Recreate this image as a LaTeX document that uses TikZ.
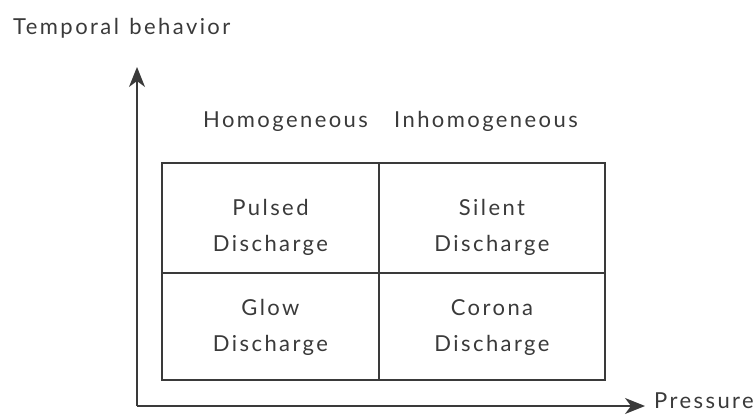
\documentclass[tikz,border=0pt]{standalone}
\usepackage{fontspec}
\setmainfont{Lato}[LetterSpace=11, WordSpace=1.3]
\usetikzlibrary{arrows.meta}
\definecolor{ink}{HTML}{3A3A3A}
\tikzset{
  lbl/.style={text=ink, inner sep=0pt, font=\fontsize{22}{36}\selectfont},
  cell/.style={draw=ink, line width=1.4pt, inner sep=0pt},
  celltext/.style={lbl, align=center},
  axis/.style={draw=ink, line width=1.4pt, -{Stealth[length=20pt,width=16pt,inset=6pt]}}
}
\begin{document}
\begin{tikzpicture}[x=1pt,y=-1pt]
\useasboundingbox (0,0) rectangle (756,420);
% cells
\node[cell, minimum width=217pt, minimum height=110pt] (pc) at (270.5,218) {};
\node[cell, minimum width=226pt, minimum height=110pt] (sc) at (492,218) {};
\node[cell, minimum width=217pt, minimum height=107pt] (gc) at (270.5,326.5) {};
\node[cell, minimum width=226pt, minimum height=107pt] (cc) at (492,326.5) {};
\node[celltext] (pt) at ([yshift=-9pt]pc.center) {Pulsed\\Discharge};
\node[celltext] (st) at ([yshift=-9pt]sc.center) {Silent\\Discharge};
\node[celltext] (gt) at ([yshift=-1pt]gc.center) {Glow\\Discharge};
\node[celltext] (ct) at ([yshift=-1pt]cc.center) {Corona\\Discharge};
% headings
\node[lbl, anchor=base west] (hom) at (203,128) {Homogeneous};
\node[lbl, anchor=base west] (inh) at (394,128) {Inhomogeneous};
% axes
\coordinate (o) at (137,406);
\coordinate (ytip) at (137,67);
\coordinate (xtip) at (645,406);
\draw[axis] (o) -- (ytip);
\draw[axis] (o) -- (xtip);
\node[lbl, anchor=base west] (ylab) at (13,35) {Temporal behavior};
\node[lbl, anchor=base west] (xlab) at (654,408) {Pressure};
\end{tikzpicture}
\end{document}
